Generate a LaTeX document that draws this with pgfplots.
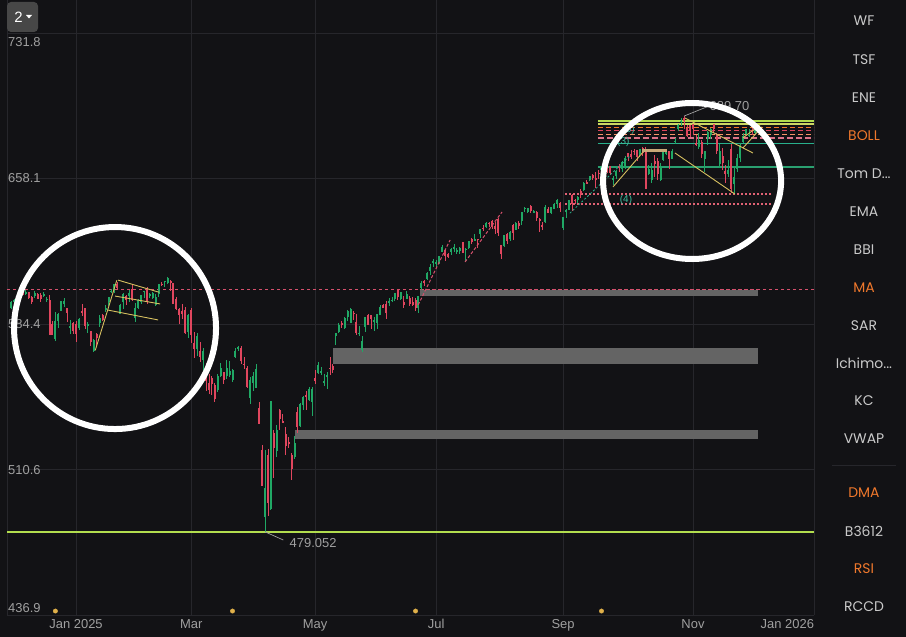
\documentclass[border=0pt]{standalone}
\usepackage{pgfplots}
\pgfplotsset{compat=1.18}
\usepackage{pgfplotstable}
\usepackage{fontspec}
\setmainfont{Liberation Sans}
\newfontfamily\panelfont{Poppins}
\definecolor{bgc}{HTML}{121215}
\definecolor{gridc}{HTML}{26262B}
\definecolor{labc}{HTML}{A0A0A0}
\definecolor{panc}{HTML}{CACACA}
\definecolor{orc}{HTML}{F0782C}
\definecolor{cgreen}{HTML}{20A865}
\definecolor{cred}{HTML}{E0465E}
\definecolor{lime}{HTML}{B2DD4E}
\definecolor{lime2}{HTML}{CBD862}
\definecolor{pinkd}{HTML}{D4506C}
\definecolor{pinkdot}{HTML}{E06274}
\definecolor{teal}{HTML}{28B08C}
\definecolor{greenl}{HTML}{2AA070}
\definecolor{yel}{HTML}{D6C060}
\definecolor{tan}{HTML}{C8A878}
\definecolor{barg}{HTML}{646464}
\definecolor{divc}{HTML}{E0B04A}
\definecolor{ewc}{HTML}{3CBF9F}

\pgfplotstableread{
i o h l c
-22 592.2 596.1 592.1 595.3
-21 595.6 597.0 594.7 596.3
-20 596.1 596.9 595.0 596.6
-19 598.3 600.6 597.3 600.4
-18 600.4 601.2 599.0 599.4
-17 600.1 601.8 599.2 600.5
-16 600.4 600.6 596.8 597.4
-15 598.1 598.6 594.5 595.5
-14 598.5 601.1 597.4 600.2
-13 599.3 599.9 596.9 597.0
-12 599.1 599.9 595.5 596.9
-11 598.7 600.5 597.9 599.5
-10 596.9 597.9 595.6 597.0
-9 596.7 599.1 578.6 579.0
-8 584.1 585.7 578.6 578.8
-7 576.6 590.6 575.7 586.0
-6 585.7 590.1 582.5 589.5
-5 590.9 596.1 590.8 596.1
-4 594.3 597.3 592.9 596.1
-3 592.3 592.6 585.6 589.8
-2 582.7 586.5 579.2 583.0
-1 584.7 585.4 579.1 580.9
0 584.2 585.9 575.3 579.4
1 582.3 587.4 581.2 586.8
2 591.1 594.5 588.4 590.2
3 592.2 592.6 581.6 583.4
4 583.5 585.4 580.0 584.3
5 580.7 580.8 573.4 575.3
6 570.6 576.6 570.2 576.2
7 579.2 579.8 573.2 577.0
8 585.1 588.7 583.0 587.6
9 589.0 589.2 585.7 586.4
10 591.8 594.2 590.4 592.4
11 595.5 597.9 593.5 597.9
12 600.7 602.2 600.0 601.2
13 600.6 604.8 600.3 604.6
14 604.6 605.6 601.6 602.8
15 589.6 594.5 589.4 594.2
16 595.4 600.2 591.8 599.3
17 598.5 598.9 594.0 596.6
18 598.7 601.4 595.5 599.8
19 602.3 604.8 595.9 596.6
20 587.5 595.1 585.3 592.6
21 592.6 597.1 592.1 596.6
22 595.4 599.2 594.3 599.0
23 600.8 601.3 597.4 601.1
24 601.7 602.9 594.4 595.6
25 598.8 600.3 597.5 599.7
26 597.4 600.7 597.2 600.1
27 594.0 599.4 593.3 598.2
28 599.3 604.7 598.0 604.5
29 604.7 605.8 603.6 604.5
30 605.7 606.3 603.2 606.3
31 604.9 608.0 604.4 607.7
32 606.3 606.5 601.1 605.2
33 605.0 605.1 594.3 594.7
34 596.8 597.8 591.3 592.0
35 592.0 592.7 584.4 589.0
36 590.7 594.4 586.7 589.3
37 591.6 592.8 579.5 579.9
38 580.4 589.5 577.2 589.0
39 591.2 592.3 574.9 578.8
40 574.7 580.4 567.3 571.9
41 571.7 579.9 568.1 578.1
42 570.5 575.2 565.1 567.7
43 565.9 572.4 560.6 570.9
44 562.6 564.5 550.6 555.6
45 554.4 559.0 548.7 550.9
46 557.2 558.1 548.2 553.9
47 553.5 554.2 544.7 546.4
48 551.1 558.8 550.0 557.8
49 557.8 564.7 557.4 562.2
50 559.8 560.0 554.1 556.0
51 557.8 566.0 556.6 562.1
52 558.3 565.6 557.6 560.5
53 556.1 561.7 554.8 560.8
54 567.6 572.0 566.9 570.9
55 572.1 573.2 570.6 572.3
56 572.0 573.1 564.0 565.4
57 564.0 567.7 561.7 563.9
58 562.3 563.1 551.9 552.5
59 546.6 557.5 543.7 556.2
60 554.4 559.8 550.6 557.9
61 552.0 564.3 551.7 561.4
62 542.0 544.9 533.7 533.7
63 520.7 522.9 502.1 502.3
64 486.4 520.3 479.05 501.5
65 518.1 521.1 487.0 493.6
66 490.5 545.5 490.2 545.5
67 529.1 530.4 506.5 521.5
68 520.0 533.3 517.1 530.8
69 541.0 541.2 530.8 536.0
70 535.3 538.9 534.1 534.5
71 528.6 532.4 517.8 522.6
72 524.5 527.1 521.6 523.3
73 518.2 518.9 505.5 510.9
74 517.1 527.5 516.1 524.2
75 539.9 542.3 529.2 532.3
76 532.9 544.3 532.3 543.6
77 543.5 547.9 540.7 547.5
78 548.3 550.3 540.8 547.8
79 545.8 552.4 545.4 551.2
80 544.6 552.5 537.8 551.4
81 557.2 561.1 553.8 555.3
82 559.7 564.9 558.9 563.6
83 560.0 562.8 558.6 560.3
84 554.5 559.0 552.8 555.6
85 558.0 559.9 551.6 558.0
86 562.1 567.5 558.3 561.9
87 563.3 564.3 559.6 561.1
88 578.3 579.8 573.8 579.8
89 580.2 584.8 579.6 583.6
90 584.6 585.7 582.3 584.4
91 582.4 587.8 581.9 587.3
92 588.1 591.3 586.1 591.0
93 584.9 592.3 584.8 591.7
94 589.9 590.9 586.4 589.7
95 585.2 589.4 578.6 579.7
96 579.5 583.4 578.2 579.9
97 571.0 578.4 570.0 575.9
98 582.9 588.1 580.4 588.0
99 589.0 589.3 583.8 584.0
100 588.8 588.9 582.0 586.9
101 585.7 587.8 580.8 586.2
102 584.6 589.6 581.9 589.5
103 589.1 593.9 588.7 592.9
104 594.2 594.7 592.3 592.7
105 594.4 595.8 586.9 589.9
106 595.5 597.6 593.6 595.9
107 596.5 598.1 595.3 596.5
108 597.0 600.3 596.0 599.9
109 601.5 601.9 596.6 598.2
110 596.8 600.6 596.3 600.6
111 595.3 598.7 592.3 593.8
112 597.2 601.3 597.0 599.5
113 597.4 598.6 593.6 594.3
114 595.3 598.0 593.3 594.2
115 596.6 597.7 591.1 592.5
116 592.2 598.7 590.1 598.4
117 602.5 606.1 601.6 605.0
118 606.1 606.8 603.7 605.3
119 607.2 610.5 606.6 610.1
120 611.1 614.6 609.0 613.1
121 615.6 617.4 613.2 616.1
122 614.6 617.0 613.2 615.9
123 615.4 618.7 614.8 618.7
124 620.7 624.5 620.6 623.5
125 621.6 622.2 616.1 618.9
126 619.6 620.3 617.7 618.5
127 621.0 622.9 619.1 622.3
128 622.4 625.1 620.6 623.2
129 620.9 623.1 619.7 621.8
130 621.4 623.4 620.0 623.0
131 625.7 626.1 620.2 620.3
132 621.9 622.9 616.3 622.4
133 622.6 626.6 622.4 626.2
134 627.5 627.7 624.7 625.8
135 627.0 629.7 626.5 627.0
136 627.3 627.3 623.1 627.1
137 629.8 632.4 628.1 632.4
138 633.2 634.3 631.7 632.6
139 633.3 635.8 633.0 635.3
140 635.7 636.2 633.7 635.1
141 636.3 636.9 632.5 633.5
142 634.1 635.9 629.7 632.7
143 637.7 638.0 629.0 630.3
144 624.5 624.5 617.5 619.9
145 623.9 629.6 623.5 629.4
146 629.8 630.7 624.9 626.2
147 627.2 631.5 626.4 631.0
148 634.5 634.8 627.1 630.5
149 632.2 635.9 631.9 635.4
150 635.6 636.7 632.5 634.1
151 636.5 641.1 634.5 640.9
152 643.0 643.5 641.0 643.1
153 641.1 643.2 640.4 643.2
154 643.9 644.4 640.8 641.6
155 641.1 642.2 640.4 641.5
156 641.3 641.4 636.6 638.0
157 637.6 637.9 631.2 636.3
158 634.5 636.2 632.0 633.8
159 636.0 644.7 635.5 643.5
160 642.7 643.7 640.5 640.7
161 640.4 643.6 640.1 643.4
162 642.8 645.6 642.6 645.0
163 645.4 647.7 643.3 647.1
164 645.7 646.0 641.3 643.3
165 632.8 638.7 632.2 638.5
166 640.9 642.4 638.3 641.9
167 642.2 647.4 642.1 647.3
168 649.7 650.4 641.5 645.4
169 647.2 647.9 645.0 647.0
170 647.1 649.1 645.4 648.5
171 651.8 652.8 648.2 650.4
172 652.4 656.5 651.8 655.8
173 656.1 657.3 655.1 655.6
174 657.4 659.2 656.9 659.1
175 659.7 660.1 657.3 658.2
176 658.2 661.2 653.4 657.4
177 660.9 662.4 657.9 660.5
178 662.3 664.6 660.4 663.7
179 663.3 667.0 662.6 666.8
180 667.0 667.3 661.0 663.2
181 664.5 664.6 659.7 661.1
182 657.9 659.3 654.6 658.1
183 659.5 662.4 657.9 661.8
184 664.4 665.3 661.6 663.7
185 662.9 666.7 661.6 666.2
186 663.2 669.4 663.1 668.5
187 670.9 670.9 666.8 669.2
188 670.4 672.7 668.2 669.2
189 671.9 673.2 670.2 671.6
190 672.3 672.5 667.0 669.1
191 670.3 673.2 669.0 673.1
192 673.5 673.9 669.5 671.2
193 672.9 673.9 652.8 653.0
194 660.6 665.1 659.8 663.0
195 657.2 665.8 655.9 662.2
196 666.8 670.2 658.9 665.2
197 666.8 668.7 657.1 660.6
198 657.4 665.8 656.7 664.4
199 667.3 672.2 667.0 671.3
200 671.0 673.0 669.8 671.3
201 672.0 672.0 663.1 667.8
202 668.1 673.1 667.9 671.8
203 676.5 678.7 675.6 677.3
204 682.9 685.5 682.1 685.2
205 687.1 688.9 684.8 687.1
206 688.7 689.7 682.9 687.4
207 683.9 685.0 679.2 679.8
208 685.0 685.1 679.2 682.1
209 685.7 685.8 679.9 683.3
210 676.1 680.0 674.6 675.2
211 674.2 680.9 673.2 677.6
212 676.5 677.4 668.7 670.3
213 667.9 672.1 661.2 671.9
214 677.9 682.2 675.0 681.4
215 680.0 683.6 678.3 683.0
216 685.5 685.5 681.0 683.4
217 680.5 680.9 670.5 672.0
218 665.4 675.7 663.3 671.9
219 669.4 673.7 662.2 665.7
220 662.1 665.1 655.9 660.1
221 660.5 667.3 658.6 662.6
222 672.9 675.6 650.9 652.5
223 655.1 664.6 650.9 659.0
224 662.7 670.6 661.6 668.7
225 668.6 676.2 666.3 675.0
226 676.8 681.0 676.1 679.7
227 680.5 683.4 680.3 683.4
228 679.6 682.9 679.2 680.3
229 682.7 683.9 679.9 681.5
230 680.9 684.6 680.3 683.9
}\candles

\pgfplotsset{
 wick/.style={draw=none, forget plot, unbounded coords=discard,
   error bars/y dir=both, error bars/y explicit, error bars/error mark=none,
   error bars/error bar style={draw=#1, line width=0.8bp}},
 body/.style={draw=none, forget plot, unbounded coords=discard,
   error bars/y dir=both, error bars/y explicit, error bars/error mark=none,
   error bars/error bar style={draw=#1, line width=2bp}},
}

\begin{document}
\begin{tikzpicture}[x=1bp,y=1bp]
\useasboundingbox (0,0) rectangle (906,637);
\fill[bgc] (0,0) rectangle (906,637);
\begin{axis}[
  at={(7bp,22bp)}, anchor=south west,
  scale only axis, width=807bp, height=615bp,
  xmin=-23.4, xmax=250, ymin=436.9, ymax=748.52,
  axis line style={draw=none},
  major tick length=0pt,
  xtick={0,39,81,122,165,209,250},
  xticklabels={Jan 2025,Mar,May,Jul,Sep,Nov,\llap{Jan 2026}},
  ytick={436.9,510.6,584.4,658.1,731.8},
  yticklabels={},
  grid=major,
  major grid style={draw=gridc, line width=0.7bp},
  xticklabel style={font=\fontsize{13}{15}\selectfont, text=labc, inner sep=0pt, anchor=north, yshift=-4bp},
]
% left border
\draw[gridc, line width=0.7bp] (rel axis cs:0,0) -- (rel axis cs:0,1);

% horizontal level lines
\addplot[lime, line width=2bp, forget plot] coordinates {(-23.4,479.05) (250,479.05)};
\addplot[pinkd, line width=1.1bp, dash pattern=on 3bp off 3bp, forget plot] coordinates {(-23.4,601.6) (250,601.6)};

% grey zones
\fill[barg] (axis cs:116.5,598.5) rectangle (axis cs:231,601.4);
\fill[barg] (axis cs:87.1,564.1) rectangle (axis cs:231,572.2);
\fill[barg] (axis cs:74.2,526.1) rectangle (axis cs:231,530.6);
\addplot[pinkd, line width=1.1bp, dash pattern=on 3bp off 3bp, forget plot] coordinates {(116.5,601.6) (231,601.6)};

% top band lines
\addplot[lime, line width=1.6bp, forget plot] coordinates {(176.8,687.2) (250,687.2)};
\addplot[lime2, line width=1.1bp, forget plot] coordinates {(176.8,685.7) (250,685.7)};
\addplot[orc, line width=1.1bp, dash pattern=on 5bp off 3bp, forget plot] coordinates {(176.8,684.1) (250,684.1)};
\addplot[cred, line width=1.1bp, dash pattern=on 5bp off 3bp, forget plot] coordinates {(176.8,682.6) (250,682.6)};
\addplot[orc!60!pink, line width=1bp, dash pattern=on 5bp off 3bp, forget plot] coordinates {(176.8,680.6) (250,680.6)};
\addplot[pinkd!80!white, line width=1.5bp, dash pattern=on 6bp off 3bp, forget plot] coordinates {(176.8,678.6) (250,678.6)};
\addplot[teal, line width=1.2bp, forget plot] coordinates {(176.8,675.6) (250,675.6)};
\addplot[greenl, line width=1.2bp, forget plot] coordinates {(176.8,663.9) (250,663.9)};
\addplot[pinkdot, line width=1.5bp, dash pattern=on 2bp off 2bp, forget plot] coordinates {(165.7,650.2) (236.1,650.2)};
\addplot[pinkdot, line width=1.5bp, dash pattern=on 2bp off 2bp, forget plot] coordinates {(165.7,645.2) (236.1,645.2)};

% candles
\addplot[wick=cgreen] table[x=i, y expr={\thisrow{c}>=\thisrow{o} ? 0.5*(\thisrow{h}+\thisrow{l}) : nan}, y error expr={0.5*(\thisrow{h}-\thisrow{l})}] {\candles};
\addplot[wick=cred] table[x=i, y expr={\thisrow{c}<\thisrow{o} ? 0.5*(\thisrow{h}+\thisrow{l}) : nan}, y error expr={0.5*(\thisrow{h}-\thisrow{l})}] {\candles};
\addplot[body=cgreen] table[x=i, y expr={\thisrow{c}>=\thisrow{o} ? 0.5*(\thisrow{o}+\thisrow{c}) : nan}, y error expr={max(0.5*abs(\thisrow{c}-\thisrow{o}),0.25)}] {\candles};
\addplot[body=cred] table[x=i, y expr={\thisrow{c}<\thisrow{o} ? 0.5*(\thisrow{o}+\thisrow{c}) : nan}, y error expr={max(0.5*abs(\thisrow{c}-\thisrow{o}),0.25)}] {\candles};

% dividend dots
\addplot[only marks, mark=*, mark size=2.2bp, draw=divc, fill=divc, forget plot] coordinates {(-7,438.9) (53,438.9) (115,438.9) (178,438.9)};

% trend drawings
\addplot[yel, line width=0.9bp, forget plot] coordinates {(6.5,571) (13.8,606.5)};
\addplot[yel, line width=0.9bp, forget plot] coordinates {(14.2,606.6) (28.2,600.4)};
\addplot[yel, line width=0.9bp, forget plot] coordinates {(13.2,598.5) (28.5,594.5)};
\addplot[yel, line width=0.9bp, forget plot] coordinates {(10.8,591.4) (27.8,586.4)};
\addplot[yel, line width=0.9bp, forget plot] coordinates {(206.3,688.7) (229.3,671.0)};
\addplot[yel, line width=0.9bp, forget plot] coordinates {(202.9,671.0) (223.2,650.2)};
\addplot[yel, line width=0.9bp, forget plot] coordinates {(181.9,653.8) (192.1,671.5)};
\addplot[yel, line width=0.9bp, forget plot] coordinates {(225.9,673.5) (232.4,684.2)};
\addplot[yel, line width=0.9bp, forget plot] coordinates {(225.9,678.6) (231.7,685.2)};
\addplot[tan, line width=3bp, forget plot] coordinates {(191.7,672.4) (200.2,672.4)};
\addplot[pinkd, line width=1bp, dash pattern=on 3bp off 2bp, forget plot] coordinates {(115.9,594.0) (126.7,626.9)};
\addplot[pinkd, line width=1bp, dash pattern=on 3bp off 2bp, forget plot] coordinates {(131.8,615.8) (144.3,641.1)};
\addplot[teal, line width=0.8bp, dash pattern=on 2bp off 2bp, forget plot] coordinates {(167.3,640.5) (187.7,669.5)};

% wave labels
\node[text=ewc, font=\fontsize{10}{11}\selectfont, inner sep=0pt] at (axis cs:187.2,682.6) {(5)};
\node[text=ewc, font=\fontsize{10}{11}\selectfont, inner sep=0pt] at (axis cs:185.4,676.4) {(3)};
\node[text=ewc, font=\fontsize{10}{11}\selectfont, inner sep=0pt] at (axis cs:186.3,647.2) {(4)};

% price annotations
\draw[labc, line width=0.7bp] (axis cs:64,479.05) -- (axis cs:70.2,474.9);
\node[anchor=west, text=labc, font=\fontsize{13}{15}\selectfont, inner sep=0pt] at (axis cs:72.3,473.6) {479.052};
\draw[labc, line width=0.7bp] (axis cs:206.0,689.7) -- (axis cs:214.1,694.6);
\node[anchor=west, text=labc, font=\fontsize{13}{15}\selectfont, inner sep=0pt] at (axis cs:214.6,694.6) {689.70};

% y labels
\node[anchor=north west, text=labc, font=\fontsize{13}{15}\selectfont, inner sep=0pt, xshift=1bp, yshift=-4bp] at (axis cs:-23.4,731.8) {731.8};
\node[anchor=west, text=labc, font=\fontsize{13}{15}\selectfont, inner sep=0pt, xshift=1bp] at (axis cs:-23.4,658.1) {658.1};
\node[anchor=west, text=labc, font=\fontsize{13}{15}\selectfont, inner sep=0pt, xshift=1bp] at (axis cs:-23.4,584.4) {584.4};
\node[anchor=west, text=labc, font=\fontsize{13}{15}\selectfont, inner sep=0pt, xshift=1bp] at (axis cs:-23.4,510.6) {510.6};
\node[anchor=south west, text=labc, font=\fontsize{13}{15}\selectfont, inner sep=0pt, xshift=1bp, yshift=2bp] at (axis cs:-23.4,436.9) {436.9};

% circles
\draw[white, line width=6bp] (axis cs:13.2,582.3) circle[radius=101bp];
\draw[white, line width=6bp] (axis cs:208.7,656.8) ellipse[x radius=89bp, y radius=78bp];
\end{axis}

% top-left selector
\fill[fill=black!72!white, rounded corners=4bp] (7,605) rectangle (38,635);
\node[text=white, font=\fontsize{15}{16}\selectfont, inner sep=0pt] at (18.5,620) {2};
\fill[white] (26,622) -- (32,622) -- (29,618.5) -- cycle;

% right panel
\begin{scope}[every node/.style={inner sep=0pt, font=\panelfont\fontsize{14}{16}\selectfont}]
\node[text=panc] at (864,616) {WF};
\node[text=panc] at (864,577) {TSF};
\node[text=panc] at (864,539) {ENE};
\node[text=orc]  at (864,501) {BOLL};
\node[text=panc] at (864,463) {Tom D...};
\node[text=panc] at (864,425) {EMA};
\node[text=panc] at (864,387) {BBI};
\node[text=orc]  at (864,349) {MA};
\node[text=panc] at (864,311) {SAR};
\node[text=panc] at (864,274) {Ichimo...};
\node[text=panc] at (864,236) {KC};
\node[text=panc] at (864,198) {VWAP};
\node[text=orc]  at (864,144) {DMA};
\node[text=panc] at (864,106) {B3612};
\node[text=orc]  at (864,68) {RSI};
\node[text=panc] at (864,30) {RCCD};
\end{scope}
\draw[gridc, line width=0.7bp] (832,172) -- (896,172);
\end{tikzpicture}
\end{document}
